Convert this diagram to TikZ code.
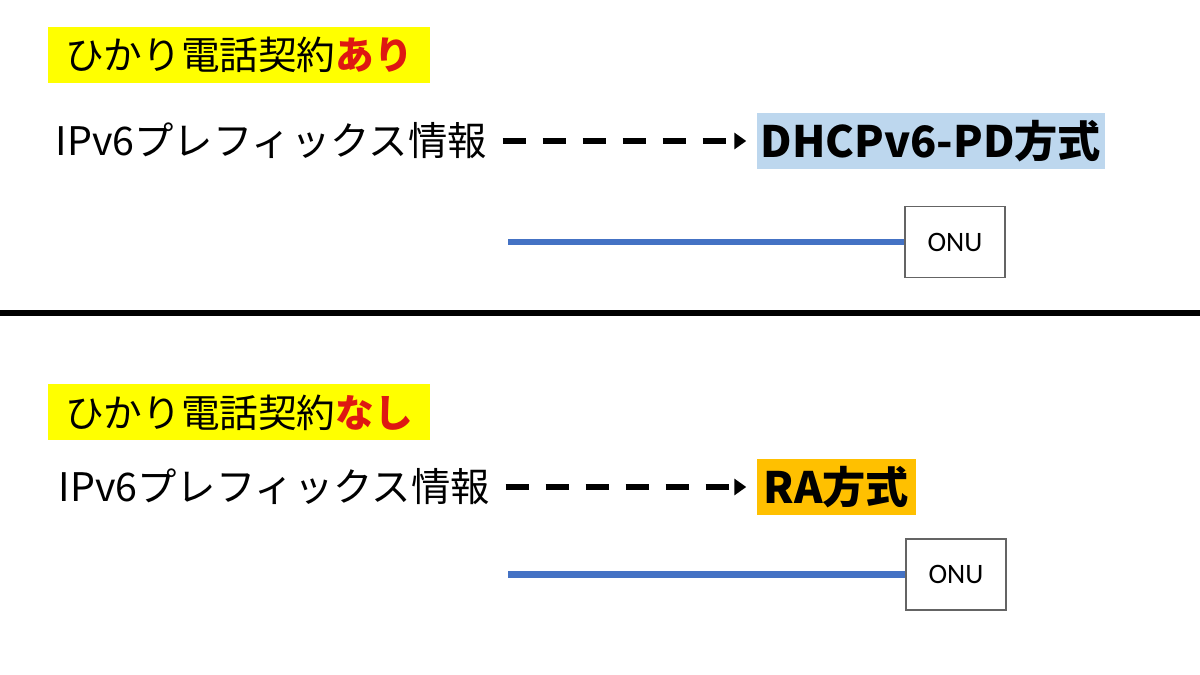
\documentclass[tikz,border=0pt]{standalone}
\usepackage{fontspec}
\setmainfont{Noto Sans CJK JP}
\newfontfamily\onufont{Carlito}
\usetikzlibrary{arrows.meta}

\definecolor{hikariyellow}{RGB}{255,255,0}
\definecolor{pdblue}{RGB}{189,215,238}
\definecolor{raorange}{RGB}{255,192,0}
\definecolor{keyred}{RGB}{222,24,18}
\definecolor{fibreblue}{RGB}{68,114,196}
\definecolor{onugray}{RGB}{100,100,100}

\begin{document}
\begin{tikzpicture}
\tikzstyle{title} = [rectangle, fill=hikariyellow, inner sep=0pt,
minimum width=3.82cm, minimum height=0.56cm, font=\fontsize{11}{13}\selectfont]
\tikzstyle{info} = [inner sep=0pt, anchor=west, font=\fontsize{11.2}{13}\selectfont]
\tikzstyle{method} = [rectangle, inner sep=0pt, minimum height=0.56cm,
font=\fontsize{12.3}{14}\selectfont\bfseries]
\tikzstyle{onu} = [rectangle, draw=onugray, line width=0.5pt, minimum width=1cm,
minimum height=0.71cm, font=\onufont\fontsize{8}{10}\selectfont]
\tikzstyle{dasharrow} = [draw, line width=1.9pt, dash pattern=on 0.23cm off 0.17cm,
-{Triangle[length=0.12cm,width=0.16cm]}, shorten <=0.15cm, shorten >=0.1cm]
\tikzstyle{fibre} = [draw, fibreblue, line width=1.8pt]

\useasboundingbox (0,0) rectangle (12,6.75);

% with hikari denwa
\node [title] (withtel) at (2.39,6.20) {ひかり電話契約\textcolor{keyred}{\bfseries あり}};
\node [info] (info1) at (0.55,5.34) {IPv6プレフィックス情報};
\node [method, fill=pdblue, minimum width=3.48cm] (dhcp) at (9.31,5.34) {DHCPv6-PD方式};
\node [onu] (onu1) at (9.55,4.33) {ONU};
\coordinate (fibre1) at (5.08,4.33);

% separator
\coordinate (sepl) at (0,3.62);
\coordinate (sepr) at (12,3.62);
\draw [line width=1.6pt] (sepl) -- (sepr);

% without hikari denwa
\node [title] (notel) at (2.39,2.625) {ひかり電話契約\textcolor{keyred}{\bfseries なし}};
\node [info] (info2) at (0.58,1.88) {IPv6プレフィックス情報};
\node [method, fill=raorange, minimum width=1.59cm] (ra) at (8.365,1.88) {RA方式};
\node [onu] (onu2) at (9.56,1.005) {ONU};
\coordinate (fibre2) at (5.08,1.005);

\path [dasharrow] (info1) -- (dhcp);
\path [dasharrow] (info2) -- (ra);
\path [fibre] (fibre1) -- (onu1);
\path [fibre] (fibre2) -- (onu2);

\end{tikzpicture}
\end{document}
